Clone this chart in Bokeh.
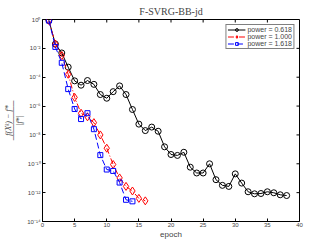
from math import pi
from bokeh.plotting import figure
from bokeh.models import FixedTicker, CustomJSTickFormatter, Legend, LegendItem
from bokeh.embed import file_html
from bokeh.resources import INLINE

# ---- data ----
epoch_0618 = list(range(1, 39))
power_0618 = [0.85, 2.0e-2, 4.8e-3, 5.0e-4, 5.6e-5, 2.8e-5, 5.9e-5, 3.2e-5, 6.3e-6, 3.5e-6,
              1.0e-5, 2.5e-5, 6.3e-6, 5.8e-7, 5.6e-8, 2.0e-8, 3.5e-8, 1.8e-8, 1.5e-9, 4.4e-10,
              3.8e-10, 6.3e-10, 5.8e-11, 2.3e-11, 2.3e-11, 1.0e-10, 7.9e-12, 3.2e-12, 2.7e-12, 2.0e-11,
              4.6e-12, 1.15e-12, 8.3e-13, 8.7e-13, 1.15e-12, 9.8e-13, 7.1e-13, 6.3e-13]
epoch_1000 = list(range(1, 17))
power_1000 = [0.85, 2.0e-2, 3.2e-3, 1.6e-4, 4.0e-6, 3.2e-7, 1.8e-7, 7.1e-8, 1.0e-8, 1.2e-9,
              8.9e-11, 1.05e-11, 2.7e-12, 1.3e-12, 4.0e-13, 2.7e-13]
epoch_1618 = list(range(1, 15))
power_1618 = [0.85, 1.26e-2, 1.0e-3, 1.5e-5, 6.3e-7, 1.26e-7, 3.2e-7, 2.5e-8, 4.0e-10, 4.0e-11,
              3.2e-11, 5.0e-12, 3.2e-13, 2.5e-13]
x_ticks = [0, 5, 10, 15, 20, 25, 30, 35, 40]
y_ticks = [1e-14, 1e-12, 1e-10, 1e-8, 1e-6, 1e-4, 1e-2, 1e0]
labels = ["power = 0.618", "power = 1.000", "power = 1.618"]

GRAY = "#444444"

p = figure(frame_width=257, frame_height=202, y_axis_type="log", x_range=(0, 40), y_range=(1e-14, 1),
           output_backend="svg", toolbar_location=None, title="F-SVRG-BB-jd",
           min_border_right=20, min_border_top=0, min_border_bottom=0, min_border_left=0)
p.title.align = "center"
p.title.text_font = "Liberation Serif"
p.title.text_font_size = "10px"
p.title.text_font_style = "normal"
p.title.standoff = 6
p.title.offset = 0
p.grid.visible = False
p.outline_line_color = "black"
p.outline_line_width = 1

sup_js = """
const sup = {'-':'\u207b','0':'\u2070','1':'\u00b9','2':'\u00b2','3':'\u00b3','4':'\u2074',
             '5':'\u2075','6':'\u2076','7':'\u2077','8':'\u2078','9':'\u2079'};
const e = Math.round(Math.log10(tick));
return '10' + String(e).split('').map(c => sup[c]).join('');
"""

xa = p.xaxis[0]
xa.ticker = FixedTicker(ticks=x_ticks)
xa.axis_label = "epoch"
xa.axis_label_text_font = "Liberation Sans"
xa.axis_label_text_font_size = "8px"
xa.axis_label_text_font_style = "normal"
xa.axis_label_text_color = GRAY
xa.axis_label_standoff = 0
xa.major_label_text_font_size = "6px"
xa.major_label_text_color = GRAY
xa.major_label_standoff = 1

ya = p.yaxis[0]
ya.ticker = FixedTicker(ticks=y_ticks)
ya.formatter = CustomJSTickFormatter(code=sup_js)
ya.major_label_text_font_size = "6px"
ya.major_label_text_color = GRAY
ya.major_label_standoff = 2
ya.axis_label = "f(X\u1d4f) \u2212 f*\n\u2500\u2500\u2500\u2500\u2500\u2500\u2500\n|f*|"
ya.axis_label_text_font = "Liberation Serif"
ya.axis_label_text_font_size = "8px"
ya.axis_label_text_font_style = "italic"
ya.axis_label_text_line_height = 0.65
ya.axis_label_standoff = 0

for ax in (xa, ya):
    ax.major_tick_in = 3
    ax.major_tick_out = 0
    ax.minor_tick_line_color = None
    ax.axis_line_color = None

# inward ticks on the top and right edges of the frame
p.ray(x=x_ticks, y=[1e0] * len(x_ticks), length=3, length_units="screen",
      angle=-pi / 2, line_color="black", line_width=1)
p.ray(x=[40] * len(y_ticks), y=y_ticks, length=3, length_units="screen",
      angle=pi, line_color="black", line_width=1)

r1 = p.line(epoch_0618, power_0618, line_color="black", line_width=1)
m1 = p.scatter(epoch_0618, power_0618, marker="circle", size=6, fill_color=None, line_color="black", line_width=1)
r2 = p.line(epoch_1000, power_1000, line_color="red", line_width=1, line_dash="6 2 1 2")
m2 = p.scatter(epoch_1000, power_1000, marker="diamond", size=8, fill_color=None, line_color="red", line_width=1)
r3 = p.line(epoch_1618, power_1618, line_color="blue", line_width=1, line_dash="6 3")
m3 = p.scatter(epoch_1618, power_1618, marker="square", size=5, fill_color=None, line_color="blue", line_width=1)

legend = Legend(items=[LegendItem(label=labels[0], renderers=[r1, m1]),
                       LegendItem(label=labels[1], renderers=[r2, m2]),
                       LegendItem(label=labels[2], renderers=[r3, m3])],
                location="top_right")
legend.label_text_font = "Liberation Sans"
legend.label_text_font_size = "7px"
legend.label_height = 7
legend.glyph_height = 7
legend.glyph_width = 18
legend.spacing = 0
legend.padding = 1
legend.margin = 5
legend.label_standoff = 2
legend.border_line_color = "black"
legend.border_line_width = 1
p.add_layout(legend)

open("out.html", "w").write(file_html(p, INLINE))
